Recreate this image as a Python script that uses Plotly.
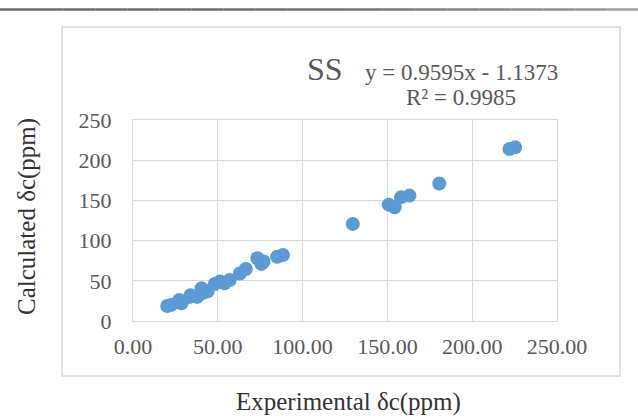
import plotly.graph_objects as go

# Data
experimental = [20.2, 22.5, 27.2, 28.6, 33.5, 34.0, 37.8, 40.4, 41.4, 44.0, 48.2, 51.2, 54.0,
                57.0, 63.0, 66.5, 73.3, 75.7, 77.0, 85.0, 88.4, 129.6, 150.8, 154.3, 158.0,
                163.0, 180.6, 222.0, 225.3]
calculated = [18.7, 20.0, 26.0, 22.0, 30.0, 32.0, 30.0, 40.6, 35.0, 37.0, 46.0, 49.0, 47.0,
              51.0, 59.0, 64.7, 78.0, 71.0, 74.0, 80.0, 82.0, 120.8, 144.7, 141.4, 153.8,
              156.0, 171.0, 214.0, 216.0]
series_name = "SS"
equation_text = "y = 0.9595x - 1.1373"
r2_text = "R² = 0.9985"
x_title = "Experimental δc(ppm)"
y_title = "Calculated δc(ppm)"
x_ticks = [0, 50, 100, 150, 200, 250]
y_ticks = [0, 50, 100, 150, 200, 250]

W, H = 638, 420
L, R, T, B = 133, 81, 120, 99
pw, ph = W - L - R, H - T - B


def px(x):
    return (x - L) / pw


def py(y):
    return (H - B - y) / ph


SERIF = "Liberation Serif, Times New Roman, serif"
GRID = "#D9D9D9"
TICK = "#595959"

fig = go.Figure()
fig.add_trace(go.Scatter(
    x=experimental, y=calculated, mode="markers",
    marker=dict(size=14, color="#5B9BD5", line=dict(width=0)),
    showlegend=False, cliponaxis=False, hoverinfo="skip",
))

axis_common = dict(
    range=[0, 250], dtick=50, tick0=0,
    showgrid=True, gridcolor=GRID, gridwidth=1,
    showline=True, linecolor=GRID, linewidth=1, mirror=True,
    zeroline=False, ticks="outside", tickcolor="rgba(0,0,0,0)",
    tickfont=dict(family=SERIF, size=22, color=TICK),
    fixedrange=True,
)
fig.update_xaxes(**axis_common, tickvals=x_ticks, tickformat=".2f", ticklen=6)
fig.update_yaxes(**axis_common, tickvals=y_ticks, ticklen=16)

shapes = []
# outer chart border
shapes.append(dict(type="rect", xref="paper", yref="paper",
                   x0=px(62), x1=px(620), y0=py(376), y1=py(27),
                   line=dict(color=GRID, width=1.5), fillcolor="rgba(0,0,0,0)", layer="below"))
# top dark rule with a gradient
n = 20
for i in range(n):
    x0 = i * W / n
    x1 = (i + 1) * W / n
    g = int(108 + 50 * (i / (n - 1)) ** 3)
    shapes.append(dict(type="line", xref="paper", yref="paper",
                       x0=px(x0), x1=px(x1), y0=py(9.5), y1=py(9.5),
                       line=dict(color=f"rgb({g},{g},{g})", width=2.5)))

annotations = [
    dict(text=series_name, xref="paper", yref="paper", x=px(325), y=py(69),
         xanchor="center", yanchor="middle", showarrow=False,
         font=dict(family=SERIF, size=32, color=TICK)),
    dict(text=equation_text, xref="paper", yref="paper", x=px(461), y=py(72),
         xanchor="center", yanchor="middle", showarrow=False,
         font=dict(family=SERIF, size=23, color=TICK)),
    dict(text=r2_text, xref="paper", yref="paper", x=px(461), y=py(97),
         xanchor="center", yanchor="middle", showarrow=False,
         font=dict(family=SERIF, size=23, color=TICK)),
    dict(text=x_title, xref="paper", yref="paper", x=px(348), y=py(402),
         xanchor="center", yanchor="middle", showarrow=False,
         font=dict(family=SERIF, size=25, color="#333333")),
    dict(text=y_title, xref="paper", yref="paper", x=px(27), y=py(217),
         xanchor="center", yanchor="middle", showarrow=False, textangle=-90,
         font=dict(family=SERIF, size=25, color="#333333")),
]

fig.update_layout(
    width=W, height=H,
    margin=dict(l=L, r=R, t=T, b=B, pad=0),
    paper_bgcolor="white", plot_bgcolor="white",
    shapes=shapes, annotations=annotations,
)

fig.write_html(
    "out.html",
    config={"displayModeBar": False, "staticPlot": True},
    post_script="document.body.style.margin='0';document.body.style.overflow='hidden';",
)
